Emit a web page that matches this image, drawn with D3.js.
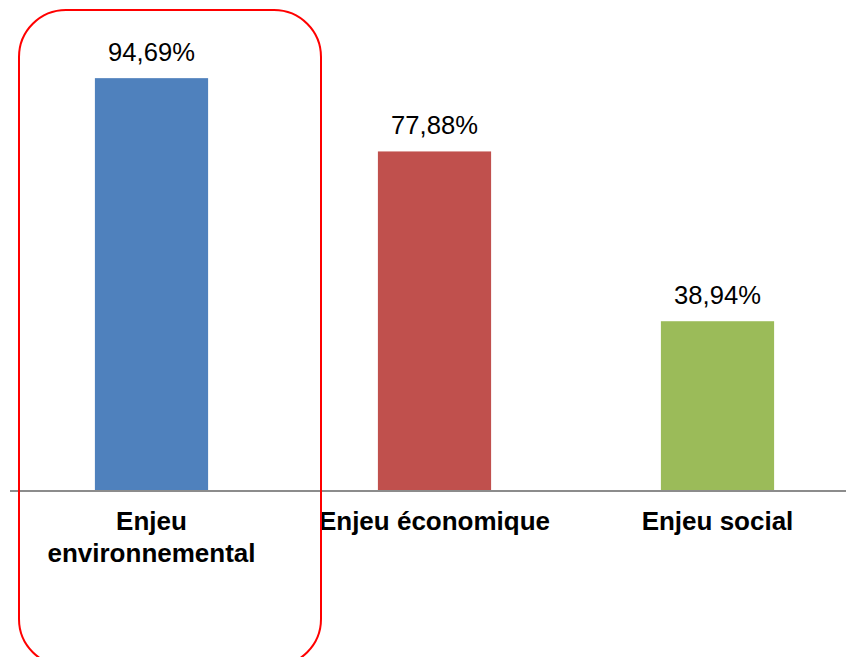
<!DOCTYPE html>
<html>
<head>
<meta charset="utf-8">
<script src="https://cdn.jsdelivr.net/npm/d3@7"></script>
<style>
  html, body { margin: 0; padding: 0; background: #ffffff; }
  svg { display: block; }
</style>
</head>
<body>
<svg id="chart" width="846" height="657"></svg>
<script>
// Share of respondents citing each stake (%)
const categories = ["Enjeu environnemental", "Enjeu économique", "Enjeu social"];
const labelLines = [["Enjeu", "environnemental"], ["Enjeu économique"], ["Enjeu social"]];
const values = [94.69, 77.88, 38.94];
const colors = ["#4F81BD", "#C0504D", "#9BBB59"];

const svg = d3.select("#chart");
const W = 846, H = 657;
const baseY = 491;

const x = d3.scaleBand()
  .domain(categories)
  .range([10, 859])
  .paddingInner(0.6)
  .paddingOuter(0.3);

const y = d3.scaleLinear()
  .domain([0, 100])
  .range([baseY, baseY - 436]);

const fmt = v => d3.format(".2f")(v).replace(".", ",") + "%";

// Bars
svg.append("g").selectAll("rect")
  .data(categories)
  .join("rect")
  .attr("x", d => x(d))
  .attr("y", (d, i) => y(values[i]))
  .attr("width", x.bandwidth())
  .attr("height", (d, i) => y(0) - y(values[i]))
  .attr("fill", (d, i) => colors[i]);

// Value labels above bars
svg.append("g").selectAll("text")
  .data(categories)
  .join("text")
  .attr("x", d => x(d) + x.bandwidth() / 2)
  .attr("y", (d, i) => y(values[i]) - 17)
  .attr("text-anchor", "middle")
  .attr("font-family", "'Liberation Sans', Arial, sans-serif")
  .attr("font-size", "25.6px")
  .attr("fill", "#000")
  .text((d, i) => fmt(values[i]));

// Category axis line
svg.append("line")
  .attr("x1", 10).attr("x2", W)
  .attr("y1", baseY).attr("y2", baseY)
  .attr("stroke", "#8c8c8c")
  .attr("stroke-width", 2);

// Category labels
const lab = svg.append("g").selectAll("text")
  .data(categories)
  .join("text")
  .attr("x", d => x(d) + x.bandwidth() / 2)
  .attr("y", baseY + 39)
  .attr("text-anchor", "middle")
  .attr("font-family", "'Liberation Sans', Arial, sans-serif")
  .attr("font-weight", "bold")
  .attr("font-size", "26px")
  .attr("fill", "#000");

lab.each(function (d, i) {
  const t = d3.select(this);
  labelLines[i].forEach((line, k) => {
    t.append("tspan")
      .attr("x", x(d) + x.bandwidth() / 2)
      .attr("dy", k === 0 ? 0 : 32)
      .text(line);
  });
});

// Highlight frame around the first category
svg.append("rect")
  .attr("x", 19)
  .attr("y", 10)
  .attr("width", 302)
  .attr("height", 656)
  .attr("rx", 47)
  .attr("ry", 47)
  .attr("fill", "none")
  .attr("stroke", "#ff0000")
  .attr("stroke-width", 2);
</script>
</body>
</html>
